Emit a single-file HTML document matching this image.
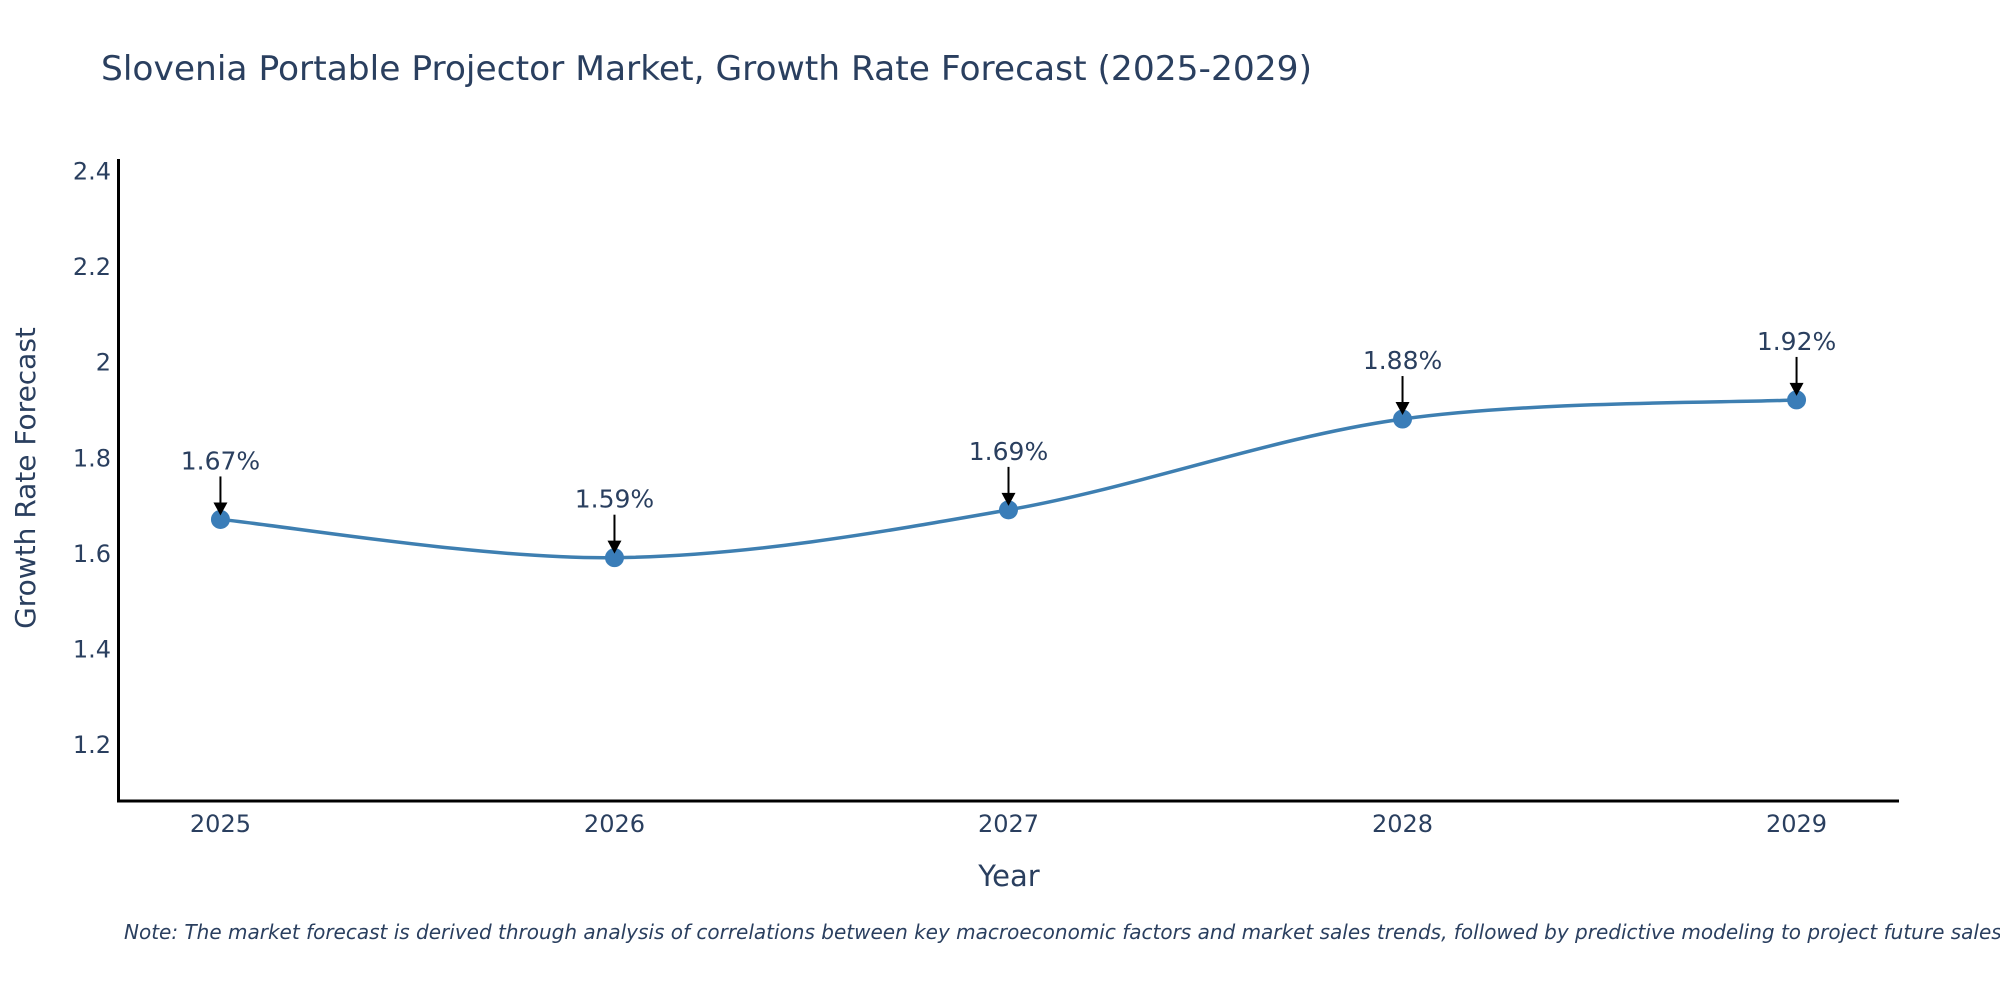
<!DOCTYPE html>
<html><head><meta charset="utf-8">
<style>
html,body{margin:0;padding:0;background:#fff;}
svg{display:block;}
text{font-family:"DejaVu Sans","Liberation Sans",sans-serif;fill:#2a3f5f;}
</style></head>
<body>
<svg id="chart" width="2000" height="1000" viewBox="0 0 2000 1000" xmlns="http://www.w3.org/2000/svg">
<text x="101" y="80" font-size="34" textLength="1211" lengthAdjust="spacingAndGlyphs">Slovenia Portable Projector Market, Growth Rate Forecast (2025-2029)</text>
<g id="yticks"></g>
<g id="xticks"></g>
<line x1="118.5" y1="159" x2="118.5" y2="802" stroke="#000" stroke-width="3"/>
<line x1="117" y1="801" x2="1899" y2="801" stroke="#000" stroke-width="3"/>
<g id="series"></g>
<g id="annots"></g>
<text transform="translate(35,478) rotate(-90)" text-anchor="middle" font-size="28">Growth Rate Forecast</text>
<text x="1009" y="886" text-anchor="middle" font-size="29">Year</text>
<text x="124" y="939" font-size="20" font-style="italic">Note: The market forecast is derived through analysis of correlations between key macroeconomic factors and market sales trends, followed by predictive modeling to project future sales.</text>
</svg>
<script>
const years = [2025, 2026, 2027, 2028, 2029];
const growth = [1.67, 1.59, 1.69, 1.88, 1.92];
const labels = ["1.67%", "1.59%", "1.69%", "1.88%", "1.92%"];
const yTicks = [1.2, 1.4, 1.6, 1.8, 2, 2.2, 2.4];
const yTickLabels = ["1.2", "1.4", "1.6", "1.8", "2", "2.2", "2.4"];

const NS = "http://www.w3.org/2000/svg";
const X0 = 118, X1 = 1899, Y0 = 801, Y1 = 159;
const xMin = 2024.74, xMax = 2029.26, yMin = 1.081, yMax = 2.424;
function xs(v){ return X0 + (v - xMin) / (xMax - xMin) * (X1 - X0); }
function ys(v){ return Y0 - (v - yMin) / (yMax - yMin) * (Y0 - Y1); }
function mk(tag, attrs){ const e = document.createElementNS(NS, tag); for (const k in attrs) e.setAttribute(k, attrs[k]); return e; }

const yt = document.getElementById('yticks');
yTicks.forEach((v, i) => {
  const t = mk('text', {x: 111, y: ys(v) + 9, 'text-anchor': 'end', 'font-size': 24});
  
  
  t.textContent = yTickLabels[i];
  yt.appendChild(t);
});
const xt = document.getElementById('xticks');
years.forEach(v => {
  const t = mk('text', {x: xs(v), y: 832, 'text-anchor': 'middle', 'font-size': 24});
  
  
  t.textContent = String(v);
  xt.appendChild(t);
});

const pts = years.map((y, i) => [xs(y), ys(growth[i])]);
let d = `M${pts[0][0]},${pts[0][1]}`;
for (let i = 0; i < pts.length - 1; i++) {
  const p0 = pts[Math.max(0, i - 1)], p1 = pts[i], p2 = pts[i + 1], p3 = pts[Math.min(pts.length - 1, i + 2)];
  const k = 1/6;
  const c1 = [p1[0] + (p2[0] - p0[0]) * k, p1[1] + (p2[1] - p0[1]) * k];
  const c2 = [p2[0] - (p3[0] - p1[0]) * k, p2[1] - (p3[1] - p1[1]) * k];
  d += ` C${c1[0]},${c1[1]} ${c2[0]},${c2[1]} ${p2[0]},${p2[1]}`;
}
const s = document.getElementById('series');
const line = mk('path', {d: d, fill: 'none', stroke: '#3e7fb1', 'stroke-width': 3.5});


s.appendChild(line);
pts.forEach(p => {
  const c = mk('circle', {cx: p[0], cy: p[1], r: 9.5, fill: '#3a7db8'});
  
  
  s.appendChild(c);
});

const an = document.getElementById('annots');
pts.forEach((p, i) => {
  const g = mk('g', {});
  
  
  g.appendChild(mk('line', {x1: p[0], y1: p[1] - 43, x2: p[0], y2: p[1] - 14, stroke: '#000', 'stroke-width': 2}));
  g.appendChild(mk('path', {d: `M${p[0]-7},${p[1]-17} L${p[0]+7},${p[1]-17} L${p[0]},${p[1]-4} Z`, fill: '#000'}));
  const t = mk('text', {x: p[0], y: p[1] - 50, 'text-anchor': 'middle', 'font-size': 25});
  t.textContent = labels[i];
  g.appendChild(t);
  an.appendChild(g);
});
</script>
</body></html>
